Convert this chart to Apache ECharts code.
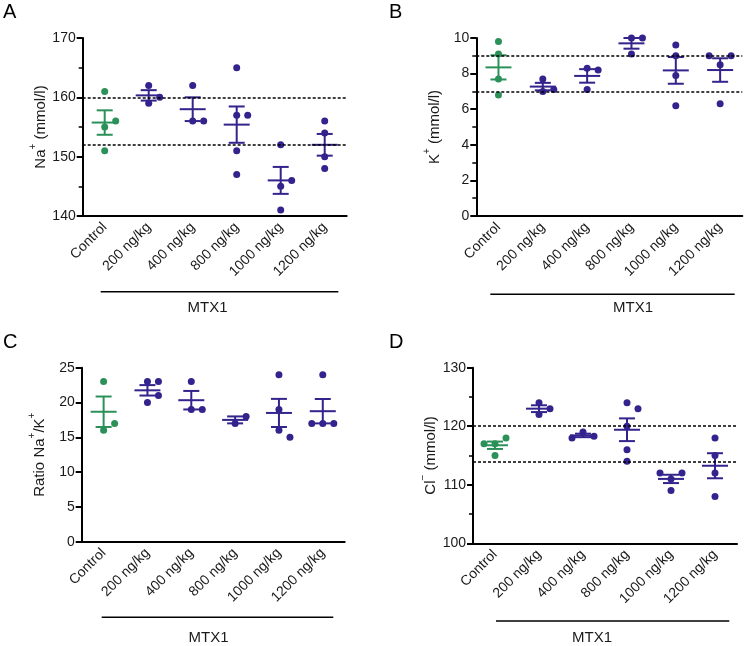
<!DOCTYPE html>
<html>
<head>
<meta charset="utf-8">
<script src="https://cdn.jsdelivr.net/npm/echarts@6/dist/echarts.min.js"></script>
<style>
html,body{margin:0;padding:0;background:#fff;}
#chart{width:746px;height:646px;}
</style>
</head>
<body>
<div id="chart"></div>
<script>
// ---------- DATA ----------
const categories = ['Control', '200 ng/kg', '400 ng/kg', '800 ng/kg', '1000 ng/kg', '1200 ng/kg'];
const groupLabel = 'MTX1';

// Panel A: Na+ (mmol/l)
const naValues = [[161, 155, 156, 151], [162, 159, 160], [162, 156, 156], [165, 157, 157, 151, 147], [152, 145, 146, 141], [156, 154, 150, 148]];
const naMean = [155.75, 160.33, 158.0, 155.4, 146.0, 152.0];
const naSem = [2.06, 0.88, 2.0, 3.06, 2.27, 1.83];
const naRef = [160, 152];
const naTicks = [140, 170, 10];

// Panel B: K+ (mmol/l)
const kValues = [[9.8, 9.1, 7.7, 6.8], [7.7, 7.0, 7.1], [8.3, 8.2, 7.1], [10.0, 10.0, 9.1], [9.6, 9.0, 7.9, 6.2], [8.5, 9.0, 9.0, 6.3]];
const kMean = [8.35, 7.27, 7.87, 9.7, 8.18, 8.2];
const kSem = [0.68, 0.21, 0.38, 0.3, 0.75, 0.66];
const kRef = [9, 7];
const kTicks = [0, 10, 2];

// Panel C: Ratio Na+/K+
const ratioValues = [[23, 16, 17], [23, 20, 21, 23], [23, 19, 19], [17, 18], [24, 19, 16, 15], [24, 17, 17, 17]];
const ratioMean = [18.67, 21.75, 20.33, 17.5, 18.5, 18.75];
const ratioSem = [2.19, 0.75, 1.33, 0.5, 2.02, 1.75];
const ratioRef = [];
const ratioTicks = [0, 25, 5];

// Panel D: Cl- (mmol/l)
const clValues = [[117, 118, 117, 115], [124, 123, 122], [119, 118.3, 118], [124, 123, 120, 116, 114], [111, 112, 112, 109], [118, 115, 112, 108]];
const clMean = [116.75, 123.0, 118.43, 119.4, 111.0, 113.25];
const clSem = [0.63, 0.58, 0.3, 1.94, 0.71, 2.14];
const clRef = [120, 114];
const clTicks = [100, 130, 10];

// ---------- STYLE / LAYOUT ----------
const GREEN = '#2b9159';
const PURPLE = '#33238c';
const FONT = '"Liberation Sans", Arial, sans-serif';
const TXT = '#1a1a1a';

const panels = [
  { letter: 'A', lx: 3, ly: 2, grid: { left: 82.7, top: 38, width: 264, height: 178 }, values: naValues, mean: naMean, sem: naSem, ref: naRef, ticks: naTicks, minor: true,
    name: '{t|Na}{s|+}{t| (mmol/l)}', nameGap: 34,
    bracket: { x1: 100.7, x2: 338.3, y: 291.7, tx: 207.5, ty: 308 } },
  { letter: 'B', lx: 389, ly: 2, grid: { left: 476.3, top: 38, width: 266, height: 178 }, values: kValues, mean: kMean, sem: kSem, ref: kRef, ticks: kTicks, minor: true,
    name: '{t|K}{s|+}{t| (mmol/l)}', nameGap: 34,
    bracket: { x1: 490.3, x2: 734.7, y: 294.3, tx: 633, ty: 308.3 } },
  { letter: 'C', lx: 3, ly: 332, grid: { left: 81.7, top: 367.7, width: 263, height: 174 }, values: ratioValues, mean: ratioMean, sem: ratioSem, ref: ratioRef, ticks: ratioTicks, minor: false,
    name: '{t|Ratio Na}{s|+}{t|/K}{s|+}', nameGap: 34,
    bracket: { x1: 101.7, x2: 333.3, y: 617.3, tx: 208.5, ty: 638 } },
  { letter: 'D', lx: 389, ly: 332, grid: { left: 473, top: 367.7, width: 264, height: 175.6 }, values: clValues, mean: clMean, sem: clSem, ref: clRef, ticks: clTicks, minor: true,
    name: '{t|Cl}{s|\u2212}{t| (mmol/l)}', nameGap: 31,
    bracket: { x1: 496, x2: 729.3, y: 621, tx: 592, ty: 638.3 } }
];

const DOT_R = 3.5, STEP = 11, COLLIDE = 9;

// jitter: place overlapping points side by side (like GraphPad scatter)
function jitter(vals, pxPerUnit) {
  const placed = [];
  const cand = [0, 1, -1, 2, -2, 3, -3];
  return vals.map(v => {
    for (const c of cand) {
      const ok = placed.every(p => !(p.c === c && Math.abs(p.v - v) * pxPerUnit < COLLIDE));
      if (ok) { placed.push({ v, c }); return c * STEP; }
    }
    return 0;
  });
}

const grids = [], xAxes = [], yAxes = [], series = [], graphics = [];

panels.forEach((P, i) => {
  grids.push(Object.assign({ containLabel: false }, P.grid));
  const [mn, mx, iv] = P.ticks;
  xAxes.push({
    type: 'category', gridIndex: i, data: categories, boundaryGap: true,
    axisLine: { lineStyle: { color: '#000', width: 2 } },
    axisTick: { alignWithLabel: true, length: 6, lineStyle: { color: '#000', width: 2 } },
    axisLabel: { rotate: 45, fontSize: 14, color: TXT, fontFamily: FONT, margin: 9, interval: 0 },
    splitLine: { show: false }
  });
  yAxes.push({
    type: 'value', gridIndex: i, min: mn, max: mx, interval: iv,
    name: P.name, nameLocation: 'middle', nameGap: P.nameGap, nameRotate: 90,
    nameTextStyle: {
      rich: {
        t: { fontSize: 15, fontFamily: FONT, color: TXT, lineHeight: 20, verticalAlign: 'bottom' },
        s: { fontSize: 10, fontFamily: FONT, color: TXT, lineHeight: 20, verticalAlign: 'top', padding: [0, 0, 0, 0] }
      }
    },
    axisLine: { show: true, lineStyle: { color: '#000', width: 2 } },
    axisTick: { show: true, length: 6, lineStyle: { color: '#000', width: 2 } },
    minorTick: { show: P.minor, splitNumber: 2, length: 4, lineStyle: { color: '#000', width: 1.5 } },
    axisLabel: { fontSize: 14, color: TXT, fontFamily: FONT, margin: 7 },
    splitLine: { show: false }
  });

  const pxPerUnit = P.grid.height / (mx - mn);
  const dotData = [];
  P.values.forEach((vals, g) => {
    const offs = jitter(vals, pxPerUnit);
    vals.forEach((v, k) => dotData.push([g, v, offs[k]]));
  });

  series.push({
    type: 'custom', xAxisIndex: i, yAxisIndex: i, data: dotData, z: 3,
    encode: { x: 0, y: 1 },
    renderItem: (params, api) => {
      const g = api.value(0);
      const p = api.coord([g, api.value(1)]);
      return { type: 'circle', shape: { cx: p[0] + api.value(2), cy: p[1], r: DOT_R },
        style: { fill: g === 0 ? GREEN : PURPLE } };
    }
  });

  const barData = P.mean.map((m, g) => [g, m, P.sem[g]]);
  series.push({
    type: 'custom', xAxisIndex: i, yAxisIndex: i, data: barData, z: 4,
    encode: { x: 0, y: 1 },
    renderItem: (params, api) => {
      const g = api.value(0), m = api.value(1), s = api.value(2);
      const c = api.coord([g, m]);
      const t = api.coord([g, m + s]);
      const b = api.coord([g, m - s]);
      const col = g === 0 ? GREEN : PURPLE;
      const st = { stroke: col, lineWidth: 2 };
      return { type: 'group', children: [
        { type: 'line', shape: { x1: c[0] - 13, y1: c[1], x2: c[0] + 13, y2: c[1] }, style: st },
        { type: 'line', shape: { x1: c[0], y1: t[1], x2: c[0], y2: b[1] }, style: st },
        { type: 'line', shape: { x1: c[0] - 8, y1: t[1], x2: c[0] + 8, y2: t[1] }, style: st },
        { type: 'line', shape: { x1: c[0] - 8, y1: b[1], x2: c[0] + 8, y2: b[1] }, style: st }
      ] };
    },
    markLine: {
      silent: true, symbol: 'none', animation: false,
      label: { show: false },
      lineStyle: { color: '#000', type: [3, 2], width: 1.5 },
      data: P.ref.map(v => ({ yAxis: v }))
    }
  });

  graphics.push({ type: 'text', left: P.lx, top: P.ly,
    style: { text: P.letter, fontSize: 20, fontFamily: FONT, fill: '#000' } });
  const B = P.bracket;
  graphics.push({ type: 'line', shape: { x1: B.x1, y1: B.y, x2: B.x2, y2: B.y }, style: { stroke: '#000', lineWidth: 1.5 } });
  graphics.push({ type: 'text', x: B.tx, y: B.ty,
    style: { text: groupLabel, fontSize: 15, fontFamily: FONT, fill: TXT, textAlign: 'center', textVerticalAlign: 'middle' } });
});

const chart = echarts.init(document.getElementById('chart'), null, { renderer: 'canvas' });
chart.setOption({
  animation: false,
  backgroundColor: '#fff',
  grid: grids, xAxis: xAxes, yAxis: yAxes, series: series, graphic: graphics
});
</script>
</body>
</html>
